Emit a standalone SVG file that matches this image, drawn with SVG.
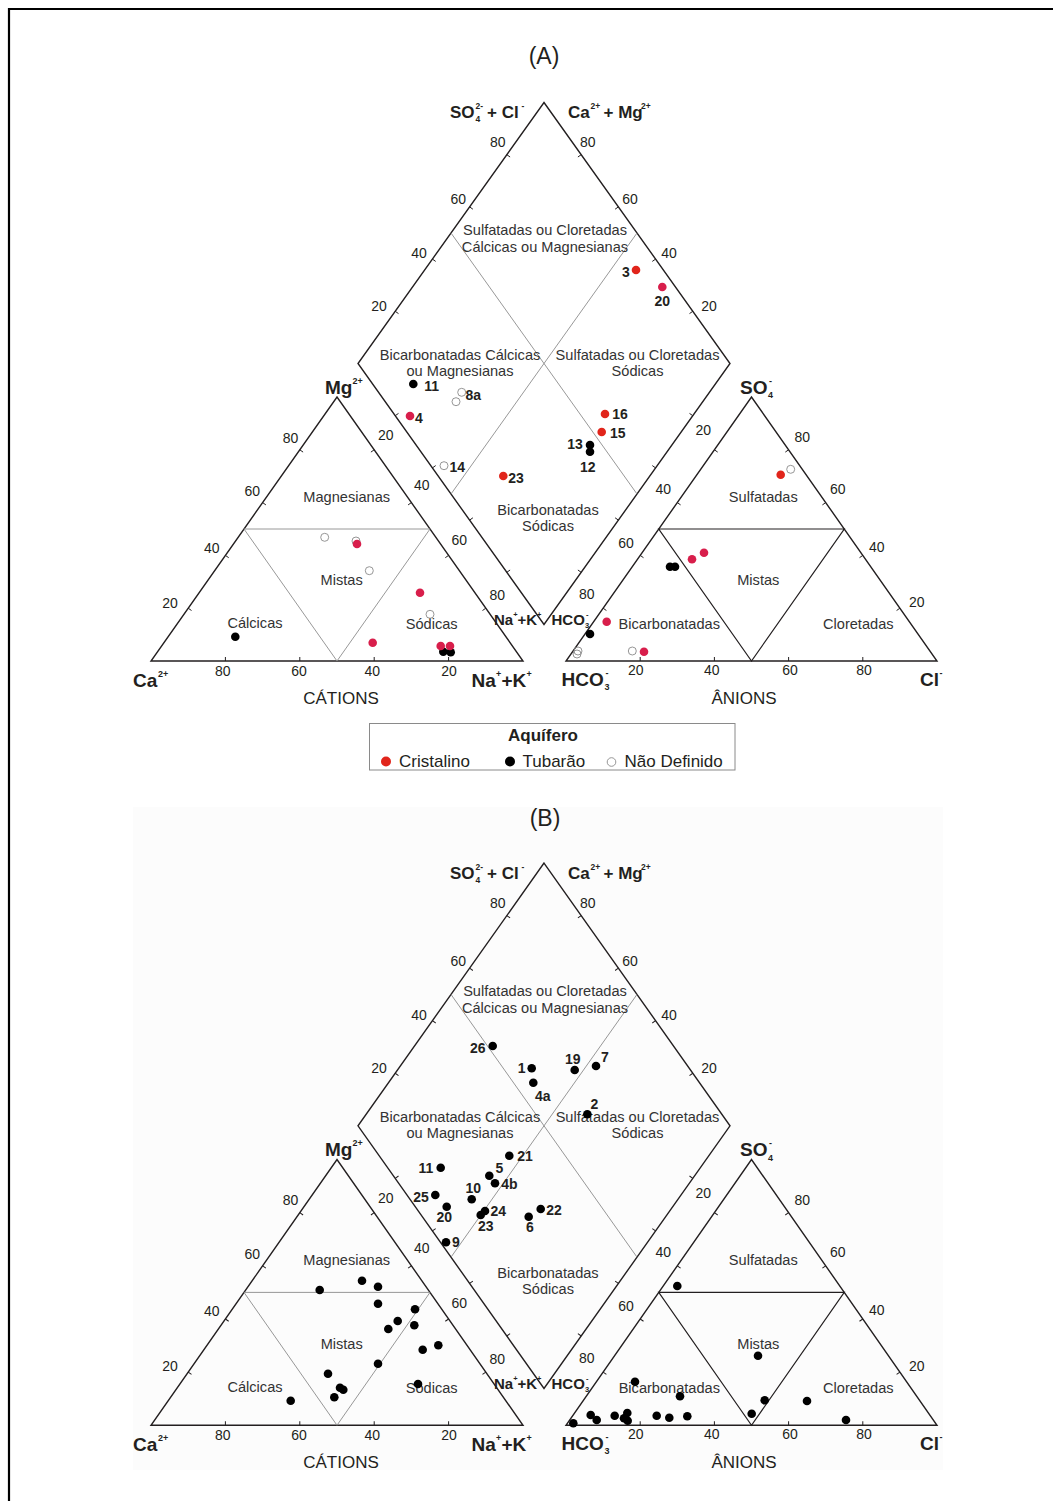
<svg xmlns="http://www.w3.org/2000/svg" width="1053" height="1501" viewBox="0 0 1053 1501">
<style>
text{font-family:"Liberation Sans",Arial,sans-serif;fill:#231f20}
.edge{fill:none;stroke:#231f20;stroke-width:1.4;stroke-linejoin:miter}
.grid{fill:none;stroke:#8c8c8c;stroke-width:0.9}
.gridd{fill:none;stroke:#231f20;stroke-width:1.2}
.tick{fill:none;stroke:#231f20;stroke-width:1}
.tl{font-size:14px;text-anchor:middle}
.reg{font-size:14.6px;text-anchor:middle;fill:#333}
.cor{font-size:19px;font-weight:bold}
.cors{font-size:9px;font-weight:bold}
.top{font-size:17px;font-weight:bold}
.tops{font-size:8.5px;font-weight:bold}
.sm{font-size:15px;font-weight:bold}
.sms{font-size:7.5px;font-weight:bold}
.ax{font-size:17px;text-anchor:middle}
.ttl{font-size:23px;text-anchor:middle}
.lab{font-size:14px;font-weight:bold;text-anchor:middle}
.k{fill:#000}
.r1{fill:#e1251b}
.r2{fill:#d81e4b}
.o{fill:none;stroke:#8a8a8a;stroke-width:0.9}
</style>
<rect x="0" y="0" width="1053" height="1501" fill="#fff"/>
<rect x="133" y="807" width="810" height="663" fill="#fcfcfc"/>
<path d="M8 9H1053M9 8V1501" stroke="#000" stroke-width="2.2" fill="none"/>

<g id="frameA">
<text class="ttl" x="544" y="64">(A)</text>
<g id="edgesA">
<path class="edge" d="M151 661H523L337 397Z"/>
<path class="edge" d="M566 661H937L751.5 397Z"/>
<path class="edge" d="M544 102.5L730 363.5L544 624.5L358 363.5Z"/>
<path class="grid" d="M244 529H430L337 661Z"/>
<path class="gridd" d="M658.75 529H844.25L751.5 661Z"/>
<path class="grid" d="M451 233L637 494M637 233L451 494"/>
<path class="tick" d="M225.4 661v-4M299.8 661v-4M374.2 661v-4M448.6 661v-4M188.2 608.2l3.3 2.3M225.4 555.4l3.3 2.3M262.6 502.6l3.3 2.3M299.8 449.8l3.3 2.3M485.8 608.2l-3.3 2.3M448.6 555.4l-3.3 2.3M411.4 502.6l-3.3 2.3M374.2 449.8l-3.3 2.3M640.2 661v-4M714.4 661v-4M788.6 661v-4M862.8 661v-4M603.1 608.2l3.3 2.3M640.2 555.4l3.3 2.3M677.3 502.6l3.3 2.3M714.4 449.8l3.3 2.3M899.9 608.2l-3.3 2.3M862.8 555.4l-3.3 2.3M825.7 502.6l-3.3 2.3M788.6 449.8l-3.3 2.3M506.8 154.7l3.3 2.3M469.6 206.9l3.3 2.3M432.4 259.1l3.3 2.3M395.2 311.3l3.3 2.3M581.2 154.7l-3.3 2.3M618.4 206.9l-3.3 2.3M655.6 259.1l-3.3 2.3M692.8 311.3l-3.3 2.3M395.2 415.7l3.3 -2.3M432.4 467.9l3.3 -2.3M469.6 520.1l3.3 -2.3M506.8 572.3l3.3 -2.3M692.8 415.7l-3.3 -2.3M655.6 467.9l-3.3 -2.3M618.4 520.1l-3.3 -2.3M581.2 572.3l-3.3 -2.3"/>
</g>
<g id="ticklabelsA">
<text class="tl" x="290.5" y="442.5">80</text><text class="tl" x="252.3" y="496">60</text><text class="tl" x="211.7" y="552.5">40</text><text class="tl" x="170" y="607.5">20</text>
<text class="tl" x="222.7" y="675.5">80</text><text class="tl" x="299" y="675.5">60</text><text class="tl" x="372.3" y="675.5">40</text><text class="tl" x="449" y="675.5">20</text>
<text class="tl" x="385.7" y="440">20</text><text class="tl" x="421.7" y="490">40</text><text class="tl" x="459.3" y="545">60</text><text class="tl" x="497.3" y="600">80</text>
<text class="tl" x="497.7" y="146.7">80</text><text class="tl" x="458.3" y="204.3">60</text><text class="tl" x="419" y="258.3">40</text><text class="tl" x="379" y="311">20</text>
<text class="tl" x="587.7" y="146.7">80</text><text class="tl" x="630" y="204.3">60</text><text class="tl" x="669" y="258.3">40</text><text class="tl" x="709" y="311">20</text>
<text class="tl" x="703.3" y="435">20</text><text class="tl" x="663.3" y="494.3">40</text><text class="tl" x="626" y="547.7">60</text><text class="tl" x="586.7" y="599">80</text>
<text class="tl" x="802.3" y="442.3">80</text><text class="tl" x="837.7" y="494.3">60</text><text class="tl" x="876.7" y="551.7">40</text><text class="tl" x="916.7" y="606.7">20</text>
<text class="tl" x="635.7" y="675">20</text><text class="tl" x="711.7" y="675">40</text><text class="tl" x="790" y="675">60</text><text class="tl" x="864" y="675">80</text>
</g>
<g id="cornersA">
<text class="top" y="118"><tspan x="450">SO</tspan><tspan class="tops" x="475.5" dy="4">4</tspan><tspan class="tops" x="475.5" dy="-13">2-</tspan><tspan x="487" dy="9">+ Cl</tspan><tspan class="tops" x="521.5" dy="-9">-</tspan></text>
<text class="top" y="118"><tspan x="568">Ca</tspan><tspan class="tops" x="590.5" dy="-9">2+</tspan><tspan x="603.5" dy="9">+ Mg</tspan><tspan class="tops" x="641" dy="-9">2+</tspan></text>
<text class="cor" y="687"><tspan x="133">Ca</tspan><tspan class="cors" x="158" dy="-10">2+</tspan></text>
<text class="cor" y="687"><tspan x="471.5">Na</tspan><tspan class="cors" x="496" dy="-10">+</tspan><tspan x="501.5" dy="10">+K</tspan><tspan class="cors" x="526.5" dy="-10">+</tspan></text>
<text class="cor" y="394"><tspan x="325">Mg</tspan><tspan class="cors" x="352.5" dy="-10">2+</tspan></text>
<text class="cor" y="686"><tspan x="561.5">HCO</tspan><tspan class="cors" x="604.5" dy="4">3</tspan><tspan class="cors" x="605.5" dy="-14">-</tspan></text>
<text class="cor" y="686"><tspan x="920">Cl</tspan><tspan class="cors" x="939.5" dy="-10">-</tspan></text>
<text class="cor" y="394"><tspan x="740">SO</tspan><tspan class="cors" x="768" dy="4">4</tspan><tspan class="cors" x="769" dy="-14">-</tspan></text>
<text class="sm" y="625"><tspan x="494">Na</tspan><tspan class="sms" x="513.3" dy="-8">+</tspan><tspan x="517.5" dy="8">+K</tspan><tspan class="sms" x="537" dy="-8">+</tspan></text>
<text class="sm" y="625"><tspan x="551.5">HCO</tspan><tspan class="sms" x="585" dy="3">3</tspan><tspan class="sms" x="586" dy="-11">-</tspan></text>
<text class="ax" x="341" y="703.5">CÁTIONS</text>
<text class="ax" x="744" y="703.5">ÂNIONS</text>
</g>
<g id="regionsA">
<text class="reg" x="545" y="235">Sulfatadas ou Cloretadas</text>
<text class="reg" x="545" y="251.5">Cálcicas ou Magnesianas</text>
<text class="reg" x="460" y="360">Bicarbonatadas Cálcicas</text>
<text class="reg" x="460" y="376">ou Magnesianas</text>
<text class="reg" x="637.5" y="360">Sulfatadas ou Cloretadas</text>
<text class="reg" x="637.5" y="376">Sódicas</text>
<text class="reg" x="548" y="515">Bicarbonatadas</text>
<text class="reg" x="548" y="531">Sódicas</text>
<text class="reg" x="346.7" y="502">Magnesianas</text>
<text class="reg" x="341.7" y="585">Mistas</text>
<text class="reg" x="255" y="627.5">Cálcicas</text>
<text class="reg" x="431.7" y="628.5">Sódicas</text>
<text class="reg" x="763.3" y="502">Sulfatadas</text>
<text class="reg" x="758.3" y="585">Mistas</text>
<text class="reg" x="669.3" y="628.5">Bicarbonatadas</text>
<text class="reg" x="858.3" y="628.5">Cloretadas</text>
</g>
</g>

<g id="pointsA">
<circle class="o" cx="461.7" cy="392.3" r="4"/><circle class="o" cx="456" cy="401.7" r="4"/><circle class="o" cx="444" cy="465.7" r="4"/>
<circle class="o" cx="324.7" cy="537.3" r="4"/><circle class="o" cx="356" cy="541" r="4"/><circle class="o" cx="369.3" cy="570.7" r="4"/><circle class="o" cx="430" cy="614.3" r="4"/>
<circle class="o" cx="790.7" cy="469.3" r="4"/><circle class="o" cx="578" cy="651" r="4"/><circle class="o" cx="577" cy="654" r="4"/><circle class="o" cx="632.3" cy="651" r="4"/>
<circle class="k" cx="413.3" cy="384" r="4.3"/><circle class="k" cx="590" cy="445" r="4.3"/><circle class="k" cx="590" cy="451.7" r="4.3"/>
<circle class="k" cx="235.3" cy="636.7" r="4.3"/><circle class="k" cx="443.3" cy="651.7" r="4.3"/><circle class="k" cx="450.7" cy="652.3" r="4.3"/>
<circle class="k" cx="670" cy="566.7" r="4.3"/><circle class="k" cx="675" cy="566.7" r="4.3"/><circle class="k" cx="590" cy="634" r="4.3"/>
<circle class="r1" cx="636" cy="270" r="4.3"/><circle class="r2" cx="662.3" cy="287" r="4.3"/><circle class="r2" cx="410" cy="416" r="4.3"/><circle class="r1" cx="503.3" cy="476" r="4.3"/>
<circle class="r1" cx="605" cy="414" r="4.3"/><circle class="r1" cx="601.7" cy="432" r="4.3"/>
<circle class="r2" cx="357" cy="544" r="4.3"/><circle class="r2" cx="420" cy="592.7" r="4.3"/><circle class="r2" cx="372.7" cy="642.7" r="4.3"/><circle class="r2" cx="440.7" cy="646" r="4.3"/><circle class="r2" cx="450" cy="646" r="4.3"/>
<circle class="r1" cx="780.7" cy="474.7" r="4.3"/><circle class="r2" cx="692" cy="559.3" r="4.3"/><circle class="r2" cx="704" cy="552.7" r="4.3"/><circle class="r2" cx="606.7" cy="621.7" r="4.3"/><circle class="r2" cx="644" cy="651.7" r="4.3"/>
<text class="lab" x="431.7" y="390.7">11</text><text class="lab" x="473.3" y="400">8a</text><text class="lab" x="419" y="422.7">4</text><text class="lab" x="457.3" y="471.7">14</text><text class="lab" x="516" y="483.3">23</text>
<text class="lab" x="620" y="419">16</text><text class="lab" x="617.7" y="438.3">15</text><text class="lab" x="575" y="449">13</text><text class="lab" x="587.7" y="472.3">12</text>
<text class="lab" x="626" y="276.7">3</text><text class="lab" x="662.3" y="305.7">20</text>
</g>

<g id="legend">
<rect x="369.5" y="723.5" width="365.5" height="46.5" fill="none" stroke="#8a8a8a" stroke-width="1"/>
<text x="543" y="741" style="font-size:17px;font-weight:bold;text-anchor:middle">Aquífero</text>
<circle class="r1" cx="386" cy="761.5" r="5"/><text x="399" y="766.5" style="font-size:17px">Cristalino</text>
<circle class="k" cx="510" cy="761.5" r="5"/><text x="522.5" y="766.5" style="font-size:17px">Tubarão</text>
<circle class="o" cx="611.5" cy="762" r="4.3"/><text x="624.5" y="766.5" style="font-size:17px">Não Definido</text>
</g>

<text class="ttl" x="545" y="826">(B)</text>
<g id="frameB" transform="matrix(1 0 0 1.0066 0 759.9)">
<g id="edgesB">
<path class="edge" d="M151 661H523L337 397Z"/>
<path class="edge" d="M566 661H937L751.5 397Z"/>
<path class="edge" d="M544 102.5L730 363.5L544 624.5L358 363.5Z"/>
<path class="grid" d="M244 529H430L337 661Z"/>
<path class="gridd" d="M658.75 529H844.25L751.5 661Z"/>
<path class="grid" d="M451 233L637 494M637 233L451 494"/>
<path class="tick" d="M225.4 661v-4M299.8 661v-4M374.2 661v-4M448.6 661v-4M188.2 608.2l3.3 2.3M225.4 555.4l3.3 2.3M262.6 502.6l3.3 2.3M299.8 449.8l3.3 2.3M485.8 608.2l-3.3 2.3M448.6 555.4l-3.3 2.3M411.4 502.6l-3.3 2.3M374.2 449.8l-3.3 2.3M640.2 661v-4M714.4 661v-4M788.6 661v-4M862.8 661v-4M603.1 608.2l3.3 2.3M640.2 555.4l3.3 2.3M677.3 502.6l3.3 2.3M714.4 449.8l3.3 2.3M899.9 608.2l-3.3 2.3M862.8 555.4l-3.3 2.3M825.7 502.6l-3.3 2.3M788.6 449.8l-3.3 2.3M506.8 154.7l3.3 2.3M469.6 206.9l3.3 2.3M432.4 259.1l3.3 2.3M395.2 311.3l3.3 2.3M581.2 154.7l-3.3 2.3M618.4 206.9l-3.3 2.3M655.6 259.1l-3.3 2.3M692.8 311.3l-3.3 2.3M395.2 415.7l3.3 -2.3M432.4 467.9l3.3 -2.3M469.6 520.1l3.3 -2.3M506.8 572.3l3.3 -2.3M692.8 415.7l-3.3 -2.3M655.6 467.9l-3.3 -2.3M618.4 520.1l-3.3 -2.3M581.2 572.3l-3.3 -2.3"/>
</g>
<g id="ticklabelsB">
<text class="tl" x="290.5" y="442.5">80</text><text class="tl" x="252.3" y="496">60</text><text class="tl" x="211.7" y="552.5">40</text><text class="tl" x="170" y="607.5">20</text>
<text class="tl" x="222.7" y="675.5">80</text><text class="tl" x="299" y="675.5">60</text><text class="tl" x="372.3" y="675.5">40</text><text class="tl" x="449" y="675.5">20</text>
<text class="tl" x="385.7" y="440">20</text><text class="tl" x="421.7" y="490">40</text><text class="tl" x="459.3" y="545">60</text><text class="tl" x="497.3" y="600">80</text>
<text class="tl" x="497.7" y="146.7">80</text><text class="tl" x="458.3" y="204.3">60</text><text class="tl" x="419" y="258.3">40</text><text class="tl" x="379" y="311">20</text>
<text class="tl" x="587.7" y="146.7">80</text><text class="tl" x="630" y="204.3">60</text><text class="tl" x="669" y="258.3">40</text><text class="tl" x="709" y="311">20</text>
<text class="tl" x="703.3" y="435">20</text><text class="tl" x="663.3" y="494.3">40</text><text class="tl" x="626" y="547.7">60</text><text class="tl" x="586.7" y="599">80</text>
<text class="tl" x="802.3" y="442.3">80</text><text class="tl" x="837.7" y="494.3">60</text><text class="tl" x="876.7" y="551.7">40</text><text class="tl" x="916.7" y="606.7">20</text>
<text class="tl" x="635.7" y="675">20</text><text class="tl" x="711.7" y="675">40</text><text class="tl" x="790" y="675">60</text><text class="tl" x="864" y="675">80</text>
</g>
<g id="cornersB">
<text class="top" y="118"><tspan x="450">SO</tspan><tspan class="tops" x="475.5" dy="4">4</tspan><tspan class="tops" x="475.5" dy="-13">2-</tspan><tspan x="487" dy="9">+ Cl</tspan><tspan class="tops" x="521.5" dy="-9">-</tspan></text>
<text class="top" y="118"><tspan x="568">Ca</tspan><tspan class="tops" x="590.5" dy="-9">2+</tspan><tspan x="603.5" dy="9">+ Mg</tspan><tspan class="tops" x="641" dy="-9">2+</tspan></text>
<text class="cor" y="687"><tspan x="133">Ca</tspan><tspan class="cors" x="158" dy="-10">2+</tspan></text>
<text class="cor" y="687"><tspan x="471.5">Na</tspan><tspan class="cors" x="496" dy="-10">+</tspan><tspan x="501.5" dy="10">+K</tspan><tspan class="cors" x="526.5" dy="-10">+</tspan></text>
<text class="cor" y="394"><tspan x="325">Mg</tspan><tspan class="cors" x="352.5" dy="-10">2+</tspan></text>
<text class="cor" y="686"><tspan x="561.5">HCO</tspan><tspan class="cors" x="604.5" dy="4">3</tspan><tspan class="cors" x="605.5" dy="-14">-</tspan></text>
<text class="cor" y="686"><tspan x="920">Cl</tspan><tspan class="cors" x="939.5" dy="-10">-</tspan></text>
<text class="cor" y="394"><tspan x="740">SO</tspan><tspan class="cors" x="768" dy="4">4</tspan><tspan class="cors" x="769" dy="-14">-</tspan></text>
<text class="sm" y="625"><tspan x="494">Na</tspan><tspan class="sms" x="513.3" dy="-8">+</tspan><tspan x="517.5" dy="8">+K</tspan><tspan class="sms" x="537" dy="-8">+</tspan></text>
<text class="sm" y="625"><tspan x="551.5">HCO</tspan><tspan class="sms" x="585" dy="3">3</tspan><tspan class="sms" x="586" dy="-11">-</tspan></text>
<text class="ax" x="341" y="703.5">CÁTIONS</text>
<text class="ax" x="744" y="703.5">ÂNIONS</text>
</g>
<g id="regionsB">
<text class="reg" x="545" y="235">Sulfatadas ou Cloretadas</text>
<text class="reg" x="545" y="251.5">Cálcicas ou Magnesianas</text>
<text class="reg" x="460" y="360">Bicarbonatadas Cálcicas</text>
<text class="reg" x="460" y="376">ou Magnesianas</text>
<text class="reg" x="637.5" y="360">Sulfatadas ou Cloretadas</text>
<text class="reg" x="637.5" y="376">Sódicas</text>
<text class="reg" x="548" y="515">Bicarbonatadas</text>
<text class="reg" x="548" y="531">Sódicas</text>
<text class="reg" x="346.7" y="502">Magnesianas</text>
<text class="reg" x="341.7" y="585">Mistas</text>
<text class="reg" x="255" y="627.5">Cálcicas</text>
<text class="reg" x="431.7" y="628.5">Sódicas</text>
<text class="reg" x="763.3" y="502">Sulfatadas</text>
<text class="reg" x="758.3" y="585">Mistas</text>
<text class="reg" x="669.3" y="628.5">Bicarbonatadas</text>
<text class="reg" x="858.3" y="628.5">Cloretadas</text>
</g>
</g>

<g id="pointsB">
<circle class="k" cx="492.7" cy="1046" r="4.3"/><circle class="k" cx="531.7" cy="1068.3" r="4.3"/><circle class="k" cx="533.3" cy="1082.7" r="4.3"/><circle class="k" cx="574.7" cy="1070" r="4.3"/><circle class="k" cx="596" cy="1066" r="4.3"/><circle class="k" cx="587.3" cy="1114.3" r="4.3"/>
<circle class="k" cx="509.3" cy="1155.7" r="4.3"/><circle class="k" cx="440.7" cy="1167.7" r="4.3"/><circle class="k" cx="489.3" cy="1175.7" r="4.3"/><circle class="k" cx="495" cy="1183.3" r="4.3"/><circle class="k" cx="471.7" cy="1199.3" r="4.3"/><circle class="k" cx="435.3" cy="1195" r="4.3"/>
<circle class="k" cx="446.7" cy="1206.7" r="4.3"/><circle class="k" cx="485" cy="1211" r="4.3"/><circle class="k" cx="480.7" cy="1215" r="4.3"/><circle class="k" cx="528.7" cy="1216.7" r="4.3"/><circle class="k" cx="540.7" cy="1209" r="4.3"/><circle class="k" cx="446" cy="1242.3" r="4.3"/>
<circle class="k" cx="362" cy="1280.7" r="4.3"/><circle class="k" cx="378" cy="1286.7" r="4.3"/><circle class="k" cx="319.7" cy="1290" r="4.3"/><circle class="k" cx="378" cy="1303.7" r="4.3"/><circle class="k" cx="415" cy="1309.3" r="4.3"/><circle class="k" cx="397.7" cy="1321" r="4.3"/>
<circle class="k" cx="388.3" cy="1329" r="4.3"/><circle class="k" cx="414.3" cy="1325.3" r="4.3"/><circle class="k" cx="438.3" cy="1345.3" r="4.3"/><circle class="k" cx="422.7" cy="1349.7" r="4.3"/><circle class="k" cx="378" cy="1363.7" r="4.3"/><circle class="k" cx="328" cy="1373.7" r="4.3"/>
<circle class="k" cx="340" cy="1387.7" r="4.3"/><circle class="k" cx="343.3" cy="1389.7" r="4.3"/><circle class="k" cx="334.3" cy="1397.3" r="4.3"/><circle class="k" cx="418" cy="1384" r="4.3"/><circle class="k" cx="290.7" cy="1400.7" r="4.3"/>
<circle class="k" cx="677.3" cy="1286" r="4.3"/><circle class="k" cx="758" cy="1355.7" r="4.3"/><circle class="k" cx="635" cy="1381.7" r="4.3"/><circle class="k" cx="680" cy="1396.3" r="4.3"/><circle class="k" cx="764.7" cy="1400.3" r="4.3"/><circle class="k" cx="807" cy="1401" r="4.3"/>
<circle class="k" cx="751.7" cy="1413.7" r="4.3"/><circle class="k" cx="846" cy="1420" r="4.3"/><circle class="k" cx="573.3" cy="1423.3" r="4.3"/><circle class="k" cx="590.7" cy="1415" r="4.3"/><circle class="k" cx="596.7" cy="1420" r="4.3"/><circle class="k" cx="614.7" cy="1415.7" r="4.3"/>
<circle class="k" cx="627.3" cy="1413" r="4.3"/><circle class="k" cx="624" cy="1418.3" r="4.3"/><circle class="k" cx="627.7" cy="1420.7" r="4.3"/><circle class="k" cx="656.7" cy="1415.7" r="4.3"/><circle class="k" cx="669.3" cy="1417.7" r="4.3"/><circle class="k" cx="687.3" cy="1416.3" r="4.3"/>
<text class="lab" x="477.7" y="1053.3">26</text><text class="lab" x="521.7" y="1073.3">1</text><text class="lab" x="542.7" y="1101">4a</text><text class="lab" x="572.7" y="1064.3">19</text><text class="lab" x="605" y="1062.3">7</text><text class="lab" x="594.5" y="1108.5">2</text>
<text class="lab" x="525" y="1160.7">21</text><text class="lab" x="426" y="1172.7">11</text><text class="lab" x="499.3" y="1173.3">5</text><text class="lab" x="509.3" y="1189.3">4b</text><text class="lab" x="473.3" y="1193.3">10</text><text class="lab" x="421" y="1201.7">25</text>
<text class="lab" x="444.3" y="1221.7">20</text><text class="lab" x="498.3" y="1216">24</text><text class="lab" x="485.7" y="1230.7">23</text><text class="lab" x="530" y="1231.7">6</text><text class="lab" x="554" y="1215">22</text><text class="lab" x="456" y="1247.3">9</text>
</g>
</svg>
